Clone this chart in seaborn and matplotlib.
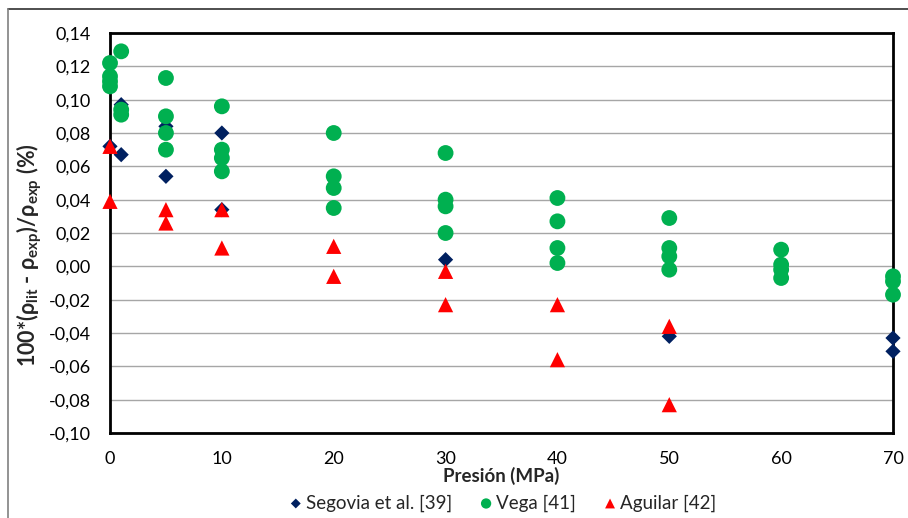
import matplotlib
matplotlib.use("Agg")
import matplotlib.pyplot as plt
from matplotlib.lines import Line2D
import seaborn as sns
import pandas as pd
from matplotlib.ticker import FuncFormatter, MultipleLocator

# --- data ---
seg_p = [0, 1, 1, 5, 5, 10, 10, 30, 50, 70, 70]
seg_v = [0.072, 0.097, 0.067, 0.084, 0.054, 0.080, 0.034, 0.004, -0.042, -0.043, -0.051]

vega_p = [0, 0, 0, 0, 1, 1, 1,
          5, 5, 5, 5,
          10, 10, 10, 10,
          20, 20, 20, 20,
          30, 30, 30, 30,
          40, 40, 40, 40,
          50, 50, 50, 50,
          60, 60, 60, 60,
          70, 70, 70]
vega_v = [0.122, 0.114, 0.111, 0.108, 0.129, 0.094, 0.091,
          0.113, 0.090, 0.080, 0.070,
          0.096, 0.070, 0.065, 0.057,
          0.080, 0.054, 0.047, 0.035,
          0.068, 0.040, 0.036, 0.020,
          0.041, 0.027, 0.011, 0.002,
          0.029, 0.011, 0.006, -0.002,
          0.010, 0.001, -0.002, -0.007,
          -0.006, -0.009, -0.017]

agu_p = [0, 0, 5, 5, 10, 10, 20, 20, 30, 30, 40, 40, 50, 50]
agu_v = [0.072, 0.039, 0.034, 0.026, 0.034, 0.011, 0.012, -0.006,
         -0.003, -0.023, -0.023, -0.056, -0.036, -0.083]

series = ["Segovia et al. [39]", "Vega [41]", "Aguilar [42]"]
colors = ["#002060", "#00B050", "#FF0000"]
markers = ["D", "o", "^"]
sizes = [60, 130, 120]

sns.set_theme(style="white")
plt.rcParams["font.family"] = ["Lato", "DejaVu Sans"]
plt.rcParams["mathtext.fontset"] = "custom"
plt.rcParams["mathtext.bf"] = "Lato:bold"
plt.rcParams["mathtext.rm"] = "Lato"

W, H = 908, 518
fig = plt.figure(figsize=(W / 100, H / 100), dpi=100)
# chart-area border (top and left visible)
fig.add_artist(Line2D([8 / W, 1.0], [1 - 9 / H, 1 - 9 / H], transform=fig.transFigure,
                      color="#303030", linewidth=1.2))
fig.add_artist(Line2D([8 / W, 8 / W], [0.0, 1 - 9 / H], transform=fig.transFigure,
                      color="#808080", linewidth=1.2))

ax = fig.add_axes([110 / W, 1 - 433 / H, (893 - 110) / W, (433 - 33) / H])

data = [(seg_p, seg_v), (vega_p, vega_v), (agu_p, agu_v)]
for (p, v), name, c, m, s in zip(data, series, colors, markers, sizes):
    df = pd.DataFrame({"p": p, "v": v})
    sns.scatterplot(data=df, x="p", y="v", ax=ax, color=c, marker=m, s=s,
                    edgecolor="none", linewidth=0, clip_on=False, zorder=3,
                    label=name)

ax.set_xlim(0, 70)
ax.set_ylim(-0.10, 0.14)
ax.xaxis.set_major_locator(MultipleLocator(10))
ax.yaxis.set_major_locator(MultipleLocator(0.02))
ax.yaxis.set_major_formatter(FuncFormatter(
    lambda v, _: f"{v:.2f}".replace(".", ",").replace("-0,00", "0,00")))
ax.grid(axis="y", color="#A6A6A6", linewidth=1.0)
ax.set_axisbelow(True)
for sp in ax.spines.values():
    sp.set_color("black")
    sp.set_linewidth(2.0)
ax.tick_params(axis="both", labelsize=13, colors="black", length=0)
ax.tick_params(axis="y", pad=14)
ax.tick_params(axis="x", pad=13)

ax.set_xlabel("Presión (MPa)", fontsize=13.5, fontweight="bold", va="center")
ax.xaxis.set_label_coords(0.5, (433 - 476) / 400)
ax.set_ylabel(r"100*(ρ$_{\mathbf{lit}}$ - ρ$_{\mathbf{exp}}$)/ρ$_{\mathbf{exp}}$ (%)",
              fontsize=15.5, fontweight="bold", va="center")
ax.yaxis.set_label_coords((29 - 110) / 783, (433 - 255) / 400)

leg = ax.legend(loc="center", bbox_to_anchor=(0.5, (433 - 503) / 400), ncol=3,
                frameon=False, fontsize=13.5, handletextpad=0.05, columnspacing=1.3,
                markerscale=0.65, handlelength=1.0, borderaxespad=0)

fig.savefig("out.png", dpi=100)
